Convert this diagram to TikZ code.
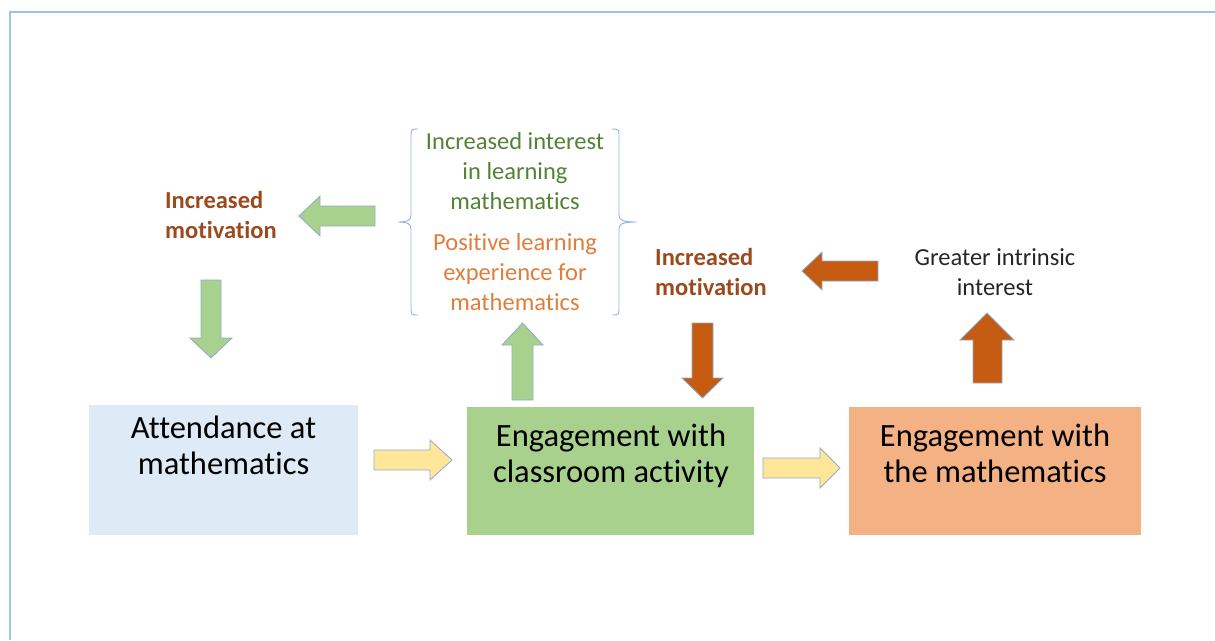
\documentclass[tikz,border=0pt]{standalone}
\usepackage{fontspec}
\setmainfont[Ligatures=NoCommon]{Carlito}
\definecolor{frameblue}{HTML}{9DC3E6}
\definecolor{boxblue}{HTML}{DEEAF6}
\definecolor{boxgreen}{HTML}{A9D18E}
\definecolor{boxorange}{HTML}{F4B183}
\definecolor{arryellow}{HTML}{FFE699}
\definecolor{arrorange}{HTML}{C55A11}
\definecolor{arredge}{HTML}{8FAACC}
\definecolor{txtbrown}{HTML}{9A4A1C}
\definecolor{txtgreen}{HTML}{548235}
\definecolor{txtorange}{HTML}{E07D3C}
\definecolor{txtgray}{HTML}{262626}
\definecolor{bracecol}{HTML}{8DB3E2}
\tikzset{
  stagebox/.style={inner sep=0pt, outer sep=0pt, text=black, font=\fontsize{32.5}{36}\selectfont, align=center, anchor=north west},
  blockarr/.style={draw=arredge, line width=0.8pt, line join=miter},
  smalltxt/.style={inner sep=0pt, font=\fontsize{24.5}{30}\selectfont},
  motiv/.style={smalltxt, text=txtbrown, font=\fontsize{24.5}{30}\selectfont\bfseries, align=left},
}
\begin{document}
\begin{tikzpicture}[x=1pt,y=-1pt]
\useasboundingbox (0,0) rectangle (1215,640);
% frame
\draw[frameblue, line width=1.2pt] (10,640) -- (10,12) -- (1215,12);

% boxes
\fill[boxblue] (89,405) rectangle (358,535);
\fill[boxgreen] (467,407) rectangle (754,535);
\fill[boxorange] (849,407) rectangle (1141,535);
\node[stagebox, anchor=north] (att) at (223.5,416) {Attendance at\\mathematics};
\node[stagebox, anchor=north] (eca) at (611,424) {Engagement with\\classroom activity};
\node[stagebox, anchor=north] (etm) at (995,424) {Engagement with\\the mathematics};

% yellow arrows
\draw[blockarr, fill=arryellow] (374,450) -- (430,450) -- (430,440) -- (452,460) -- (430,480) -- (430,470) -- (374,470) -- cycle;
\draw[blockarr, fill=arryellow] (763,458) -- (820,458) -- (820,448) -- (840,468) -- (820,488) -- (820,478) -- (763,478) -- cycle;

% green arrows
\draw[blockarr, fill=boxgreen] (375,206) -- (320,206) -- (320,196) -- (299,216) -- (320,236) -- (320,226) -- (375,226) -- cycle;
\draw[blockarr, fill=boxgreen] (201,280) -- (201,338) -- (190,338) -- (211,358) -- (232,338) -- (221,338) -- (221,280) -- cycle;
\draw[blockarr, fill=boxgreen] (512,400) -- (512,345) -- (502,345) -- (522.5,323) -- (543,345) -- (533,345) -- (533,400) -- cycle;

% orange arrows
\draw[blockarr, fill=arrorange] (878,261) -- (822,261) -- (822,252) -- (802,271) -- (822,290) -- (822,281) -- (878,281) -- cycle;
\draw[blockarr, fill=arrorange] (692,323) -- (692,378) -- (682,378) -- (702.5,398) -- (723,378) -- (713,378) -- (713,323) -- cycle;
\draw[blockarr, fill=arrorange] (973,383) -- (973,340) -- (960,340) -- (987,313) -- (1014,340) -- (1002,340) -- (1002,383) -- cycle;

% texts
\node[motiv, anchor=west] (mot1) at (165,215) {Increased\\motivation};
\node[motiv, anchor=west] (mot2) at (655,272) {Increased\\motivation};
\node[smalltxt, text=txtgray, align=center] (gii) at (995,272) {Greater intrinsic\\interest};
\node[smalltxt, text=txtgreen, align=center] (iil) at (515,171) {Increased interest\\in learning\\mathematics};
\node[smalltxt, text=txtorange, align=center] (ple) at (515,272) {Positive learning\\experience for\\mathematics};

% braces
\draw[bracecol, line width=0.9pt] (418,129) .. controls (411,129) and (411,130) .. (411,136) -- (411,215) .. controls (411,220) and (408,222) .. (398,222)
  (398,222) .. controls (408,222) and (411,224) .. (411,229) -- (411,308) .. controls (411,314) and (411,315) .. (418,315);
\draw[bracecol, line width=0.9pt] (612,129) .. controls (619,129) and (619,130) .. (619,136) -- (619,215) .. controls (619,220) and (622,222) .. (637,222)
  (637,222) .. controls (622,222) and (619,224) .. (619,229) -- (619,308) .. controls (619,314) and (619,315) .. (612,315);
\end{tikzpicture}
\end{document}
